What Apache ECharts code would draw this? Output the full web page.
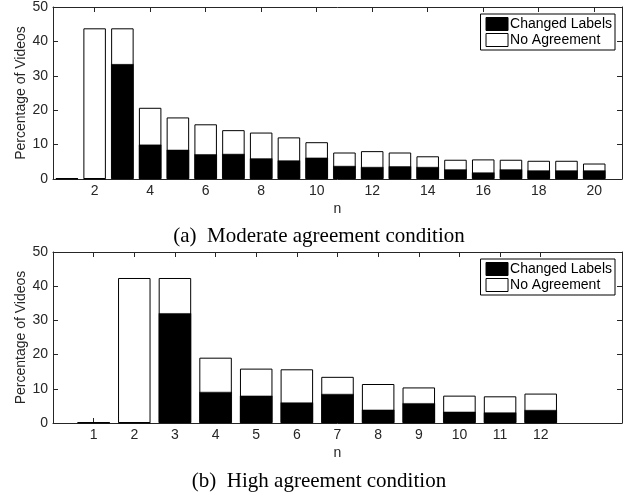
<!DOCTYPE html>
<html><head><meta charset="utf-8">
<script src="https://cdn.jsdelivr.net/npm/echarts@6/dist/echarts.min.js"></script>
<style>html,body{margin:0;padding:0;background:#fff}#c{width:638px;height:495px}</style>
</head><body><div id="c"></div>
<script>
// Moderate agreement condition
const nModerate = [1,2,3,4,5,6,7,8,9,10,11,12,13,14,15,16,17,18,19,20];
const noAgreementModerate = [0.2,43.8,43.8,20.7,17.9,15.9,14.2,13.5,12.1,10.7,7.7,8.1,7.7,6.6,5.6,5.7,5.6,5.3,5.3,4.5];
const changedModerate = [0.2,0,33.4,10.0,8.5,7.2,7.3,6.0,5.4,6.2,3.8,3.5,3.7,3.5,2.8,1.9,2.8,2.5,2.5,2.5];
const ticksModerate = [2,4,6,8,10,12,14,16,18,20];
// High agreement condition
const nHigh = [1,2,3,4,5,6,7,8,9,10,11,12];
const noAgreementHigh = [0.2,42.4,42.4,19.1,15.9,15.7,13.5,11.4,10.4,8.0,7.8,8.6];
const changedHigh = [0.2,0,32.1,9.1,8.0,6.0,8.5,3.9,5.8,3.3,3.1,3.8];
const ticksHigh = [1,2,3,4,5,6,7,8,9,10,11,12];
const yTicks = [0,10,20,30,40,50];
const captions = ['(a)  Moderate agreement condition', '(b)  High agreement condition'];
const seriesNames = ['Changed Labels', 'No Agreement'];

const AX = '#262626';
const sans = 'Liberation Sans';
const FS = 14;
const pairs = (xs, ys) => xs.map((x, i) => [x, ys[i]]);

function xAxes(gi, min, max, ticks) {
  return [
    {gridIndex: gi, type: 'value', min: min, max: max, position: 'bottom',
     name: 'n', nameLocation: 'middle', nameGap: 23,
     nameTextStyle: {color: AX, fontFamily: sans, fontSize: FS},
     axisLine: {onZero: false, lineStyle: {color: AX, width: 1}},
     axisTick: {inside: true, length: 5, lineStyle: {color: AX}, customValues: ticks},
     axisLabel: {color: AX, fontFamily: sans, fontSize: FS, margin: 5, customValues: ticks},
     splitLine: {show: false}},
    {gridIndex: gi, type: 'value', min: min, max: max, position: 'top',
     axisLine: {onZero: false, lineStyle: {color: AX, width: 1}},
     axisTick: {inside: true, length: 5, lineStyle: {color: AX}, customValues: ticks},
     axisLabel: {show: false}, splitLine: {show: false}}
  ];
}
function yAxes(gi) {
  return [
    {gridIndex: gi, type: 'value', min: 0, max: 50, interval: 10, position: 'left',
     name: 'Percentage of Videos', nameLocation: 'middle', nameGap: 25, nameMoveOverlap: false,
     nameTextStyle: {color: AX, fontFamily: sans, fontSize: FS},
     axisLine: {show: true, onZero: false, lineStyle: {color: AX, width: 1}},
     axisTick: {show: true, inside: true, length: 5, lineStyle: {color: AX}},
     axisLabel: {color: AX, fontFamily: sans, fontSize: FS, margin: 5, customValues: yTicks},
     splitLine: {show: false}},
    {gridIndex: gi, type: 'value', min: 0, max: 50, interval: 10, position: 'right',
     axisLine: {show: true, onZero: false, lineStyle: {color: AX, width: 1}},
     axisTick: {show: true, inside: true, length: 5, lineStyle: {color: AX}},
     axisLabel: {show: false}, splitLine: {show: false}}
  ];
}
function barSeries(xi, yi, xs, total, changed, bw) {
  return [
    {name: seriesNames[1], type: 'bar', xAxisIndex: xi, yAxisIndex: yi,
     data: pairs(xs, total), barWidth: bw, barGap: '-100%',
     itemStyle: {color: '#ffffff', borderColor: '#000', borderWidth: 1},
     emphasis: {disabled: true}, animation: false},
    {name: seriesNames[0], type: 'bar', xAxisIndex: xi, yAxisIndex: yi,
     data: pairs(xs, changed), barWidth: bw, barGap: '-100%',
     itemStyle: {color: '#000000', borderColor: '#000', borderWidth: 0.5},
     emphasis: {disabled: true}, animation: false}
  ];
}
function legend(top) {
  return {
    right: 23, top: top, orient: 'vertical',
    data: [
      {name: seriesNames[0], itemStyle: {color: '#000', borderColor: '#000', borderWidth: 1}},
      {name: seriesNames[1], itemStyle: {color: '#fff', borderColor: '#000', borderWidth: 1}}
    ],
    icon: 'rect', itemWidth: 22, itemHeight: 13, itemGap: 2,
    padding: [3, 3, 3, 5],
    borderColor: '#000', borderWidth: 1, backgroundColor: '#fff',
    textStyle: {color: '#000', fontFamily: sans, fontSize: FS, lineHeight: 13, padding: [0, 0, 0, -3]},
    selectedMode: false
  };
}

const chart = echarts.init(document.getElementById('c'), null, {renderer: 'canvas'});
chart.setOption({
  animation: false,
  backgroundColor: '#fff',
  title: [
    {text: captions[0], left: 'center', top: 226, padding: 0,
     textStyle: {fontFamily: 'Liberation Serif', fontSize: 21, fontWeight: 'normal', color: '#000'}},
    {text: captions[1], left: 'center', top: 471, padding: 0,
     textStyle: {fontFamily: 'Liberation Serif', fontSize: 21, fontWeight: 'normal', color: '#000'}}
  ],
  legend: [legend(14), legend(259)],
  grid: [
    {left: 53, right: 16, top: 7, height: 172, containLabel: false},
    {left: 53, right: 16, top: 252, height: 171, containLabel: false}
  ],
  xAxis: [].concat(xAxes(0, 0.5, 21, ticksModerate), xAxes(1, 0, 14, ticksHigh)),
  yAxis: [].concat(yAxes(0), yAxes(1)),
  series: [].concat(
    barSeries(0, 0, nModerate, noAgreementModerate, changedModerate, 22.5),
    barSeries(2, 2, nHigh, noAgreementHigh, changedHigh, 32.5)
  )
});
</script>
</body></html>
